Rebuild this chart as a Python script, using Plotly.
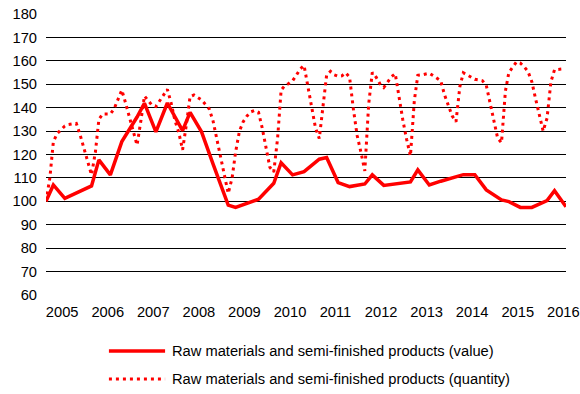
import pandas as pd
import plotly.graph_objects as go

# Monthly quantity index (Jan 2005 = 100)
quantity_months = pd.date_range("2005-01-01", periods=137, freq="MS")
quantity = [
    100, 110, 125.5, 129, 130.5, 132.2, 132.8, 133.1, 133.3, 128.5, 123, 117,
    111.3, 121, 135, 137.3, 137.3, 137.3, 139.5, 143.5, 147.5, 142, 136.2, 130.8,
    124, 134.5, 145, 143, 141, 140.5, 143, 145.5, 147.8, 142, 134.5, 129.5,
    122, 133, 144.7, 145.4, 144.4, 143.3, 141.5, 139.5, 134.4, 126.5, 119.5, 111.5,
    103.4, 110, 121, 130, 134, 136.5, 138.2, 138.8, 138, 131.2, 122, 114.5,
    112.5, 127, 147.5, 149.5, 150.3, 151.5, 153.8, 156.5, 158, 149.5, 139.5, 131.5,
    126.8, 140.4, 154, 155.5, 154, 153.4, 153.6, 154.9, 153, 139.5, 128, 121,
    113, 141.5, 155, 153, 150.2, 148.6, 150.9, 153.2, 154.5, 144.5, 134.7, 126.5,
    119.4, 143, 153.8, 154, 154.4, 154.7, 153.7, 152.7, 151.5, 145.5, 141, 136.5,
    134, 149, 154.9, 154, 153, 152.1, 151.9, 151.5, 149.5, 141.8, 134.8, 127,
    125, 147, 155, 157.5, 159.5, 159, 157.5, 155.5, 151.1, 143.8, 137.3, 130,
    135.5, 151, 156.2, 156.3, 156.5,
]

# Value index, four observations per year
value_dates = [
    "2005-01-01", "2005-03-01", "2005-06-01", "2005-09-01",
    "2006-01-01", "2006-03-01", "2006-06-01", "2006-09-01",
    "2007-01-01", "2007-03-01", "2007-06-01", "2007-09-01",
    "2008-01-01", "2008-03-01", "2008-06-01", "2008-09-01",
    "2009-01-01", "2009-03-01", "2009-06-01", "2009-09-01",
    "2010-01-01", "2010-03-01", "2010-06-01", "2010-09-01",
    "2011-01-01", "2011-03-01", "2011-06-01", "2011-09-01",
    "2012-01-01", "2012-03-01", "2012-06-01", "2012-09-01",
    "2013-01-01", "2013-03-01", "2013-06-01", "2013-09-01",
    "2014-01-01", "2014-03-01", "2014-06-01", "2014-09-01",
    "2015-01-01", "2015-03-01", "2015-06-01", "2015-09-01",
    "2016-01-01", "2016-03-01", "2016-06-01",
]
value = [
    100, 107, 101.3, 103.5,
    106.6, 117.7, 111.3, 125.5,
    136, 141.9, 129.7, 142,
    130.2, 138, 129.7, 116,
    98.4, 97.4, 99.2, 100.9,
    107.7, 116.5, 111.3, 112.7,
    118, 118.7, 108, 106.3,
    107.4, 111.3, 106.8, 107.5,
    108.3, 113.4, 107, 108.6,
    110.4, 111.4, 111.4, 104.9,
    100.6, 99.9, 97.4, 97.4,
    100.3, 104.5, 97.7,
]

series_names = [
    "Raw materials and semi-finished products (value)",
    "Raw materials and semi-finished products (quantity)",
]

RED = "#ff0000"
FONT = "Liberation Sans, Arial, sans-serif"
VALUE_LINE = dict(color=RED, width=3.5)
QUANTITY_LINE = dict(color=RED, width=3, dash="3px,4px")

fig = go.Figure()
fig.add_trace(go.Scatter(x=quantity_months, y=quantity, mode="lines",
                         name=series_names[1], line=QUANTITY_LINE,
                         showlegend=False))
fig.add_trace(go.Scatter(x=value_dates, y=value, mode="lines",
                         name=series_names[0], line=VALUE_LINE,
                         showlegend=False))

# Hand-drawn legend below the plot: line sample plus label per series
legend_rows = [(series_names[0], VALUE_LINE, -0.199),
               (series_names[1], QUANTITY_LINE, -0.299)]
for label, style, ypos in legend_rows:
    fig.add_shape(type="line", xref="paper", yref="paper",
                  x0=0.121, x1=0.229, y0=ypos, y1=ypos,
                  line=dict(color=style["color"], width=style["width"],
                            dash=style.get("dash", "solid")))
    fig.add_annotation(xref="paper", yref="paper", x=0.238, y=ypos,
                       text=label, showarrow=False, xanchor="left",
                       yanchor="middle", font=dict(family=FONT, size=14.7,
                                                   color="#000000"))

fig.update_layout(
    width=580, height=394,
    margin=dict(l=46, r=14, t=14, b=99, autoexpand=False),
    paper_bgcolor="white", plot_bgcolor="white",
    font=dict(family=FONT, size=14.7, color="#000000"),
)
fig.update_xaxes(
    type="date", range=["2005-01-01", "2016-06-01"],
    tick0="2005-05-11", dtick="M12", tickformat="%Y",
    showgrid=False, zeroline=False, showline=False, ticks="",
    ticklabelstandoff=6, automargin=False,
)
fig.update_yaxes(
    range=[60, 180], dtick=10, tick0=60,
    showgrid=True, gridcolor="#000000", gridwidth=1.3,
    zeroline=False, showline=False, ticks="",
    ticklabelstandoff=8, automargin=False,
)

fig.write_html("out.html")
